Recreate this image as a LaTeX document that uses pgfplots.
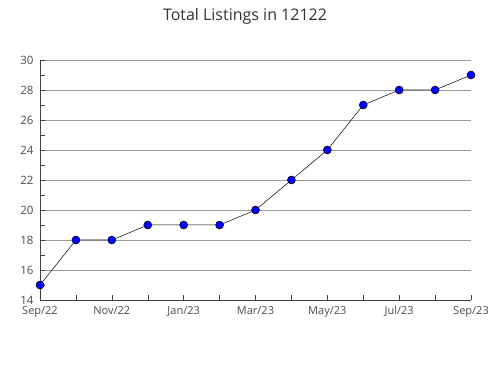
\documentclass[border=0pt]{standalone}
\usepackage{fontspec}
\setmainfont{Open Sans}
\usepackage{pgfplots}
\pgfplotsset{compat=1.18}
\begin{document}
\begin{tikzpicture}[x=1pt,y=1pt]
\useasboundingbox (0,0) rectangle (490,380);
\node[text=black!80, font=\fontsize{16}{18}\selectfont] at (245,364) {Total Listings in 12122};
\begin{axis}[
  at={(40pt,80pt)}, anchor=south west,
  scale only axis, width=431pt, height=240pt,
  xmin=0, xmax=12, ymin=14, ymax=30,
  axis line style={draw=black!75, line width=0.6pt},
  axis x line*=bottom, axis y line*=left,
  xtick={0,...,12},
  xticklabels={Sep/22,,Nov/22,,Jan/23,,Mar/23,,May/23,,Jul/23,,Sep/23},
  ytick={14,16,...,30},
  minor ytick={15,17,...,29},
  tick align=inside,
  major tick length=5pt, minor tick length=5pt,
  tick style={draw=black!75, line width=0.5pt},
  ymajorgrids, major grid style={draw=black!40, line width=0.6pt},
  xmajorgrids=false,
  xticklabel style={font=\fontsize{11}{13}\selectfont, text=black!70, yshift=-3pt},
  yticklabel style={font=\fontsize{11.5}{13}\selectfont, text=black!70, xshift=-3pt},
  /pgf/number format/assume math mode=true,
  clip=false,
]
\addplot[black, line width=0.5pt, mark=*, mark size=4pt,
  mark options={fill=blue, draw=black, line width=0.5pt}]
  coordinates {(0,15) (1,18) (2,18) (3,19) (4,19) (5,19) (6,20) (7,22) (8,24) (9,27) (10,28) (11,28) (12,29)};
\end{axis}
\end{tikzpicture}
\end{document}
